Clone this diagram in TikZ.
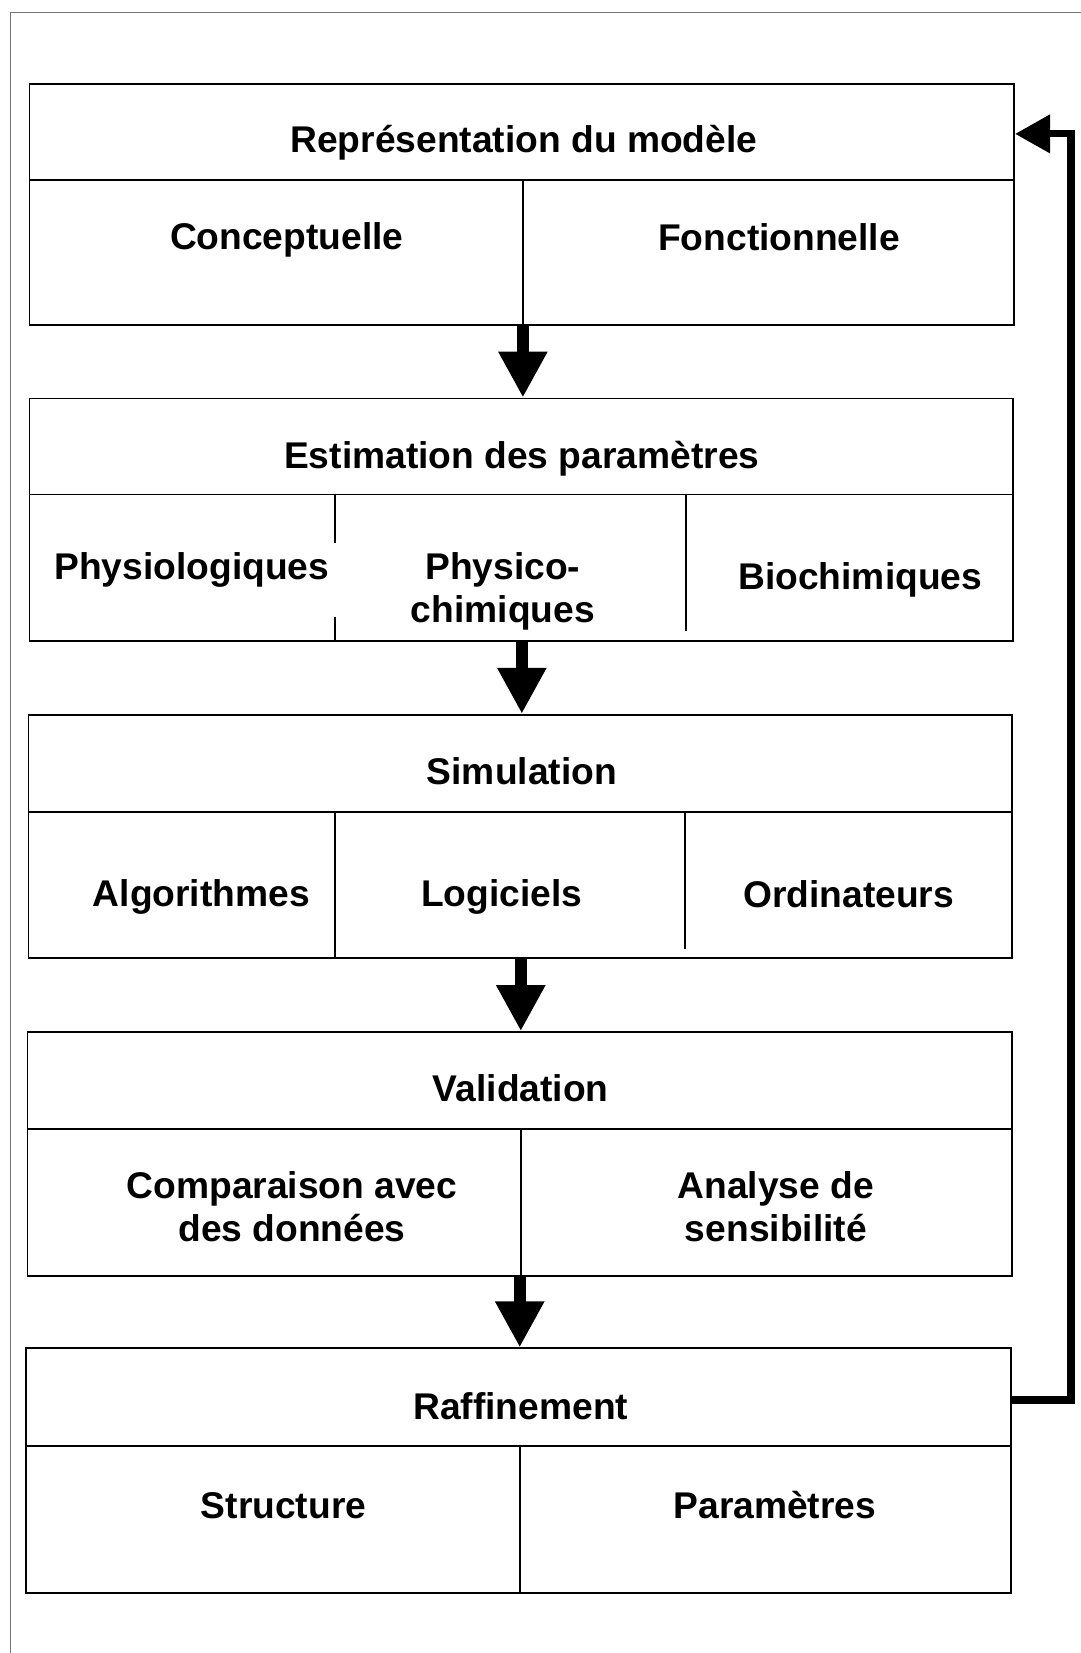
\documentclass[tikz,border=0pt]{standalone}
\usepackage{fontspec}
\setmainfont{Liberation Sans}
\usetikzlibrary{fit,arrows.meta,calc}
\begin{document}
\begin{tikzpicture}[x=0.52732pt,y=-0.52732pt,
  bigbox/.style={draw, line width=0.9pt, inner sep=0pt, rectangle},
  divline/.style={line width=0.9pt},
  lbl/.style={font=\fontsize{18.6}{21.6}\selectfont\bfseries, inner sep=0pt, align=center},
  one/.style={lbl, text height=0.72em, text depth=0.21em, yshift=-3.8pt},
  downarrow/.style={line width=6pt, -{Triangle[width=23pt,length=23pt]}},
  backarrow/.style={line width=3.6pt, line join=miter, -{Triangle[width=18.5pt,length=17.5pt]}}
]
\useasboundingbox (0,0) rectangle (1025,1568);
% outer frame
\draw[line width=0.5pt, black!55] (10,1568) -- (10,12) -- (1025,12);

% boxes
\node[bigbox, fit={(28,80) (962,308)}] (b1) {};
\node[bigbox, fit={(28,378) (961,608)}] (b2) {};
\node[bigbox, fit={(27,678) (960,909)}] (b3) {};
\node[bigbox, fit={(26,979) (960,1210)}] (b4) {};
\node[bigbox, fit={(25,1279) (959,1511)}] (b5) {};

% dividers
\draw[divline] (28,171) -- (962,171) (496,171) -- (496,308);
\draw[divline] (28,469) -- (961,469) (318,469) -- (318,515) (318,585) -- (318,608) (651,469) -- (651,599);
\draw[divline] (27,770) -- (960,770) (318,770) -- (318,909) (650,770) -- (650,900);
\draw[divline] (26,1071) -- (960,1071) (494,1071) -- (494,1210);
\draw[divline] (25,1372) -- (959,1372) (493,1372) -- (493,1511);

% texts
\node[one] (t1) at (497,133) {Représentation du modèle};
\node[one] (t1a) at (272,225) {Conceptuelle};
\node[one] (t1b) at (739,226) {Fonctionnelle};
\node[one] (t2) at (495,432) {Estimation des paramètres};
\node[one] (t2a) at (182,538) {Physiologiques};
\node[lbl] (t2b) at (477,561) {Physico-\\chimiques};
\node[one] (t2c) at (816,547) {Biochimiques};
\node[one] (t3) at (495,732) {Simulation};
\node[one] (t3a) at (191,848) {Algorithmes};
\node[one] (t3b) at (476,848) {Logiciels};
\node[one] (t3c) at (805,849) {Ordinateurs};
\node[one] (t4) at (494,1033) {Validation};
\node[lbl] (t4a) at (277,1145) {Comparaison avec\\des données};
\node[lbl] (t4b) at (736,1145) {Analyse de\\sensibilité};
\node[one] (t5) at (494,1334) {Raffinement};
\node[one] (t5a) at (269,1428) {Structure};
\node[one] (t5b) at (735,1428) {Paramètres};

% down arrows
\coordinate (a1) at (496,308); \coordinate (a2) at (495,608);
\coordinate (a3) at (494,909); \coordinate (a4) at (493,1210);
\draw[downarrow] (a1) -- (a1 |- b2.north);
\draw[downarrow] (a2) -- (a2 |- b3.north);
\draw[downarrow] (a3) -- (a3 |- b4.north);
\draw[downarrow] (a4) -- (a4 |- b5.north);

% feedback arrow
\coordinate (f0) at (b5.east |- 0,1328);
\coordinate (f3) at (b1.east |- 0,127);
\draw[backarrow] (f0) -- (1016,1328) -- (1016,127) -- (f3);
\end{tikzpicture}
\end{document}
